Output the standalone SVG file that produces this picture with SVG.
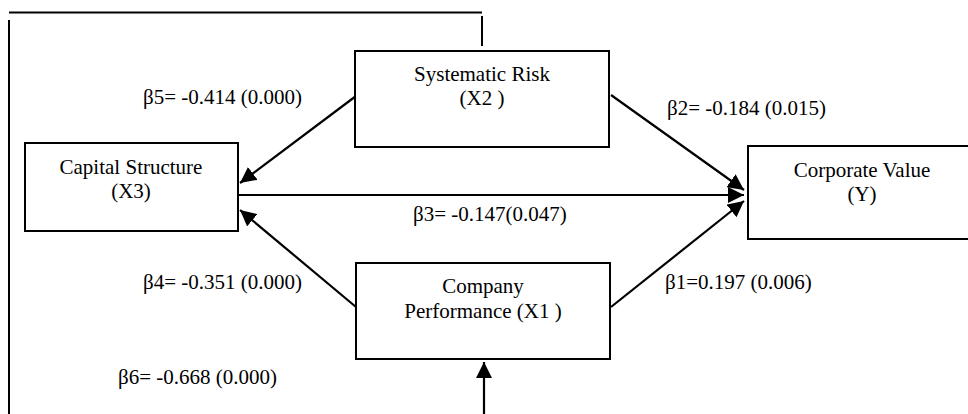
<svg xmlns="http://www.w3.org/2000/svg" width="968" height="414" viewBox="0 0 968 414">
<style>
  .box { fill: #ffffff; stroke: #000000; stroke-width: 2; }
  .ln { fill: none; stroke: #000000; stroke-width: 2; }
  .arr { fill: none; stroke: #000000; stroke-width: 2.2; marker-end: url(#ah); }
  text { font-family: "Liberation Serif", "Times New Roman", serif; font-size: 21px; fill: #000000; }
  .c { text-anchor: middle; }
</style>
<defs>
  <marker id="ah" markerUnits="userSpaceOnUse" markerWidth="18" markerHeight="16" refX="16" refY="8" orient="auto">
    <path d="M0,0 L16,8 L0,16 Z" fill="#000000"/>
  </marker>
</defs>
<rect width="968" height="414" fill="#ffffff"/>
<g id="connectors">
  <path class="ln" d="M9,12.5 L482,12.5"/>
  <path class="ln" d="M482,16 L482,46"/>
  <path class="ln" d="M9,20 L9,414"/>
  <path class="arr" d="M356,96 L240,183"/>
  <path class="arr" d="M356,307 L240,210"/>
  <path class="arr" d="M238,195 L744,195"/>
  <path class="arr" d="M611,95 L744,190"/>
  <path class="arr" d="M611,307 L744,201"/>
  <path class="arr" d="M484,414 L484,362"/>
</g>
<g id="systematic-risk">
  <rect class="box" x="355" y="51" width="254" height="96"/>
  <text class="c" x="482" y="81">Systematic Risk</text>
  <text class="c" x="482" y="105">(X2 )</text>
</g>
<g id="capital-structure">
  <rect class="box" x="25" y="143" width="213" height="88"/>
  <text class="c" x="131" y="174">Capital Structure</text>
  <text class="c" x="131" y="198">(X3)</text>
</g>
<g id="corporate-value">
  <rect class="box" x="748" y="146" width="240" height="93"/>
  <text class="c" x="862" y="177">Corporate Value</text>
  <text class="c" x="862" y="201">(Y)</text>
</g>
<g id="company-performance">
  <rect class="box" x="356" y="263" width="254" height="96"/>
  <text class="c" x="483" y="293">Company</text>
  <text class="c" x="483" y="318">Performance (X1 )</text>
</g>
<g id="labels">
  <text x="143" y="104">β5= -0.414 (0.000)</text>
  <text x="667" y="115">β2= -0.184 (0.015)</text>
  <text x="413" y="221">β3= -0.147(0.047)</text>
  <text x="143" y="289">β4= -0.351 (0.000)</text>
  <text x="665" y="289">β1=0.197 (0.006)</text>
  <text x="118" y="384">β6= -0.668 (0.000)</text>
</g>
</svg>
